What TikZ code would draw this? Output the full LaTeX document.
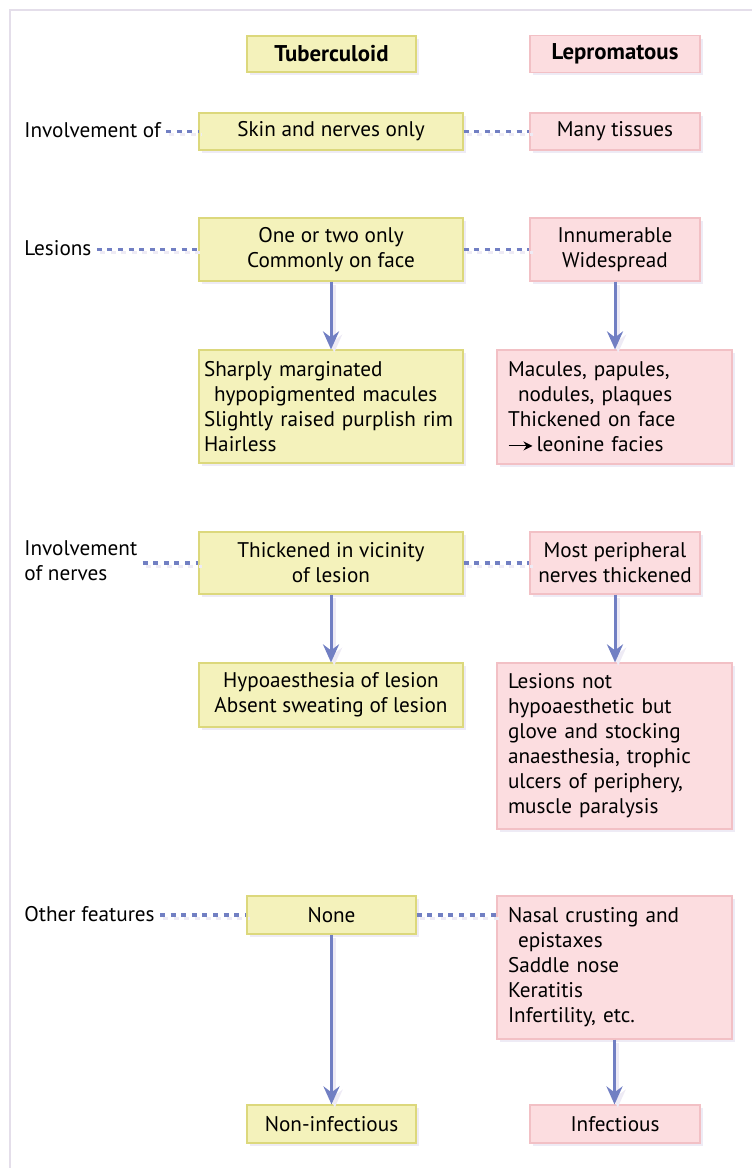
\documentclass[tikz,border=0pt]{standalone}
\usepackage{fontspec}
\setmainfont{PT Sans}
\usetikzlibrary{arrows.meta,positioning,shadows}
\definecolor{tubfill}{HTML}{F4F2BB}
\definecolor{tubdraw}{HTML}{DCD87C}
\definecolor{lepfill}{HTML}{FCDDE0}
\definecolor{lepdraw}{HTML}{F2C0C5}
\definecolor{linkc}{HTML}{717FC3}
\definecolor{shade}{HTML}{EEEBF5}
\definecolor{framec}{HTML}{E4DEEA}
\newcommand{\leadsarrow}{\tikz[baseline=-0.55ex]\draw[line width=0.5pt, -{Stealth[length=4.5pt, width=4.5pt]}] (0pt,0pt) -- (12pt,0pt);}
\tikzset{
  box/.style={rectangle, draw, line width=0.6pt, align=center, font=\fontsize{10.6}{12.5}\selectfont, inner sep=4pt,
    drop shadow={shadow xshift=1.6pt, shadow yshift=-1.6pt, fill=shade, opacity=1}},
  tub/.style={box, fill=tubfill, draw=tubdraw},
  lep/.style={box, fill=lepfill, draw=lepdraw},
  head/.style={minimum height=18pt, font=\bfseries\fontsize{11.4}{12.5}\selectfont},
  wide/.style={minimum width=132pt},
  narrow/.style={minimum width=85pt},
  tubtext/.style={inner xsep=2.5pt, text width=127pt, align=left},
  leptext/.style={inner xsep=5.5pt, text width=106.5pt, align=left},
  lbl/.style={anchor=west, align=left, inner sep=2.5pt, font=\fontsize{10.6}{12.5}\selectfont},
  dots/.style={draw=linkc, line width=1.6pt, dash pattern=on 2.5pt off 2.8pt},
  arr/.style={draw=linkc, line width=1.5pt, -{Stealth[length=9pt, width=8pt, inset=3pt]}},
  lift/.style={draw=shade, transform canvas={shift={(1.6pt,-1.6pt)}}}
}
\begin{document}
\begin{tikzpicture}[x=0.5pt, y=-0.5pt]
\useasboundingbox (0,0) rectangle (751,1168);
\draw[framec, line width=0.8pt] (10,1190) -- (10,10) -- (770,10);

% column heads
\node[tub, head, minimum width=84.5pt] (tub) at (331.5,54) {Tuberculoid};
\node[lep, head, minimum width=85pt] (lep) at (615,54) {Lepromatous};

% row labels
\node[lbl] (inv) at (19,130) {Involvement of};
\node[lbl] (les) at (19,248) {Lesions};
\node[lbl] (invn) at (19,561) {Involvement\\of nerves};
\node[lbl] (other) at (19,914) {Other features};

% tuberculoid column
\node[tub, wide, minimum height=18.5pt] (skin) at (331,131.5) {Skin and nerves only};
\node[tub, wide, minimum height=31.5pt] (one) at (331,249.5) {One or two only\\Commonly on face};
\node[tub, wide, tubtext, minimum height=56.5pt] (sharp) at (331,406.5) {Sharply marginated\\\hspace*{5pt}hypopigmented macules\\Slightly raised purplish rim\\Hairless};
\node[tub, wide, minimum height=31pt] (thick) at (331,563) {Thickened in vicinity\\of lesion};
\node[tub, wide, minimum height=32pt] (hypo) at (331,695) {Hypoaesthesia of lesion\\Absent sweating of lesion};
\node[tub, minimum width=84.5pt, minimum height=19pt] (none) at (331.5,915) {None};
\node[tub, minimum width=84.5pt, minimum height=19pt] (noninf) at (331.5,1124) {Non-infectious};

% lepromatous column
\node[lep, narrow, minimum height=18.5pt] (many) at (615,131.5) {Many tissues};
\node[lep, narrow, minimum height=31.5pt] (innum) at (615,249.5) {Innumerable\\Widespread};
\node[lep, leptext, minimum height=57pt] (mac) at (614.5,407) {Macules, papules,\\\hspace*{5pt}nodules, plaques\\Thickened on face\\\leadsarrow\,leonine facies};
\node[lep, narrow, minimum height=31pt] (most) at (615,563) {Most peripheral\\nerves thickened};
\node[lep, leptext, minimum height=83pt] (lesns) at (614.5,746) {Lesions not\\hypoaesthetic but\\glove and stocking\\anaesthesia, trophic\\ulcers of periphery,\\muscle paralysis};
\node[lep, leptext, minimum height=71.5pt] (nasal) at (614.5,967.5) {Nasal crusting and\\\hspace*{5pt}epistaxes\\Saddle nose\\Keratitis\\Infertility, etc.};
\node[lep, narrow, minimum height=19pt] (inf) at (615,1124) {Infectious};

% dotted links
\foreach \a/\b in {inv/skin, les/one, invn/thick, other/none, skin/many, one/innum, thick/most}{
  \draw[dots, lift] (\b.west -| \a.east) -- (\b.west);
  \draw[dots] (\b.west -| \a.east) -- (\b.west);
}
\draw[dots, lift] (none.east) -- (none.east -| nasal.west);
\draw[dots] (none.east) -- (none.east -| nasal.west);

% arrows
\foreach \a/\b in {one/sharp, innum/mac, thick/hypo, most/lesns, none/noninf, nasal/inf}{
  \draw[arr, lift] (\a.south) -- (\a.south |- \b.north);
  \draw[arr] (\a.south) -- (\a.south |- \b.north);
}
\end{tikzpicture}
\end{document}
